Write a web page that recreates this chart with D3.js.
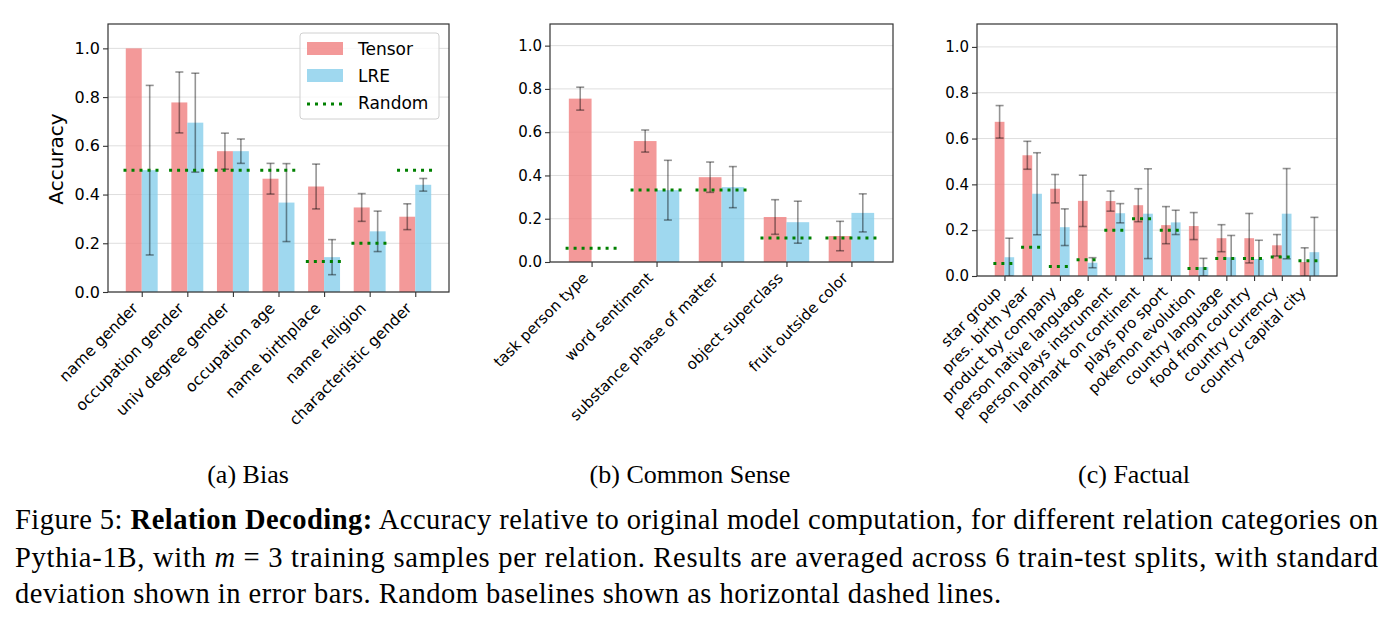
<!DOCTYPE html>
<html>
<head>
<meta charset="utf-8">
<script src="https://cdn.jsdelivr.net/npm/d3@7"></script>
<style>
  body { margin: 0; background: #fff; }
  svg { display: block; }
</style>
</head>
<body>
<svg id="fig" width="1392" height="632"></svg>
<script>
// values
var yTicks = [0, 0.2, 0.4, 0.6, 0.8, 1.0];

var biasCats = ["name gender", "occupation gender", "univ degree gender", "occupation age",
  "name birthplace", "name religion", "characteristic gender"];
var biasTensor = [1.0, 0.778, 0.578, 0.465, 0.433, 0.347, 0.309];
var biasTensorErr = [0, 0.125, 0.074, 0.063, 0.092, 0.057, 0.053];
var biasLRE = [0.50, 0.695, 0.578, 0.367, 0.143, 0.249, 0.440];
var biasLREErr = [0.348, 0.203, 0.050, 0.160, 0.072, 0.083, 0.026];
var biasRandom = [0.5, 0.5, 0.5, 0.5, 0.125, 0.2, 0.5];

var senseCats = ["task person type", "word sentiment", "substance phase of matter",
  "object superclass", "fruit outside color"];
var senseTensor = [0.755, 0.559, 0.392, 0.208, 0.120];
var senseTensorErr = [0.053, 0.051, 0.070, 0.080, 0.068];
var senseLRE = [null, 0.332, 0.346, 0.184, 0.227];
var senseLREErr = [null, 0.138, 0.095, 0.097, 0.088];
var senseRandom = [0.063, 0.333, 0.333, 0.111, 0.111];

var factCats = ["star group", "pres. birth year", "product by company", "person native language",
  "person plays instrument", "landmark on continent", "plays pro sport", "pokemon evolution",
  "country language", "food from country", "country currency", "country capital city"];
var factTensor = [0.673, 0.527, 0.381, 0.328, 0.327, 0.309, 0.222, 0.218, 0.165, 0.165, 0.134, 0.061];
var factTensorErr = [0.071, 0.061, 0.062, 0.112, 0.044, 0.072, 0.081, 0.059, 0.059, 0.108, 0.047, 0.062];
var factLRE = [0.082, 0.359, 0.213, 0.058, 0.274, 0.272, 0.234, 0.039, 0.082, 0.074, 0.272, 0.104];
var factLREErr = [0.083, 0.179, 0.080, 0.022, 0.042, 0.196, 0.053, 0.038, 0.095, 0.082, 0.197, 0.152];
var factRandom = [0.055, 0.125, 0.042, 0.071, 0.2, 0.25, 0.2, 0.033, 0.076, 0.076, 0.083, 0.067];

var tensorColor = "#f08080", lreColor = "#87ceeb", randomColor = "#008000";
var svg = d3.select("#fig");

function panel(o) {
  var n = o.cats.length;
  var m = 0.05 * (n - 0.2);
  var x = d3.scaleLinear().domain([-0.4 - m, n - 0.6 + m]).range([o.left, o.right]);
  var y = d3.scaleLinear().domain([0, 1.1]).range([o.bottom, o.top]);
  var g = svg.append("g");

  svg.append("clipPath").attr("id", "clip" + o.id)
    .append("rect")
    .attr("x", o.left).attr("y", o.top)
    .attr("width", o.right - o.left).attr("height", o.bottom - o.top);

  // grid
  g.append("g").selectAll("line").data(yTicks).join("line")
    .attr("x1", o.left).attr("x2", o.right)
    .attr("y1", function(d) { return y(d); }).attr("y2", function(d) { return y(d); })
    .attr("stroke", "#dedede").attr("stroke-width", 1);

  var plot = g.append("g").attr("clip-path", "url(#clip" + o.id + ")");
  var bw = x(0.35) - x(0);

  function bars(vals, off, color) {
    plot.append("g").selectAll("rect")
      .data(vals.map(function(v, i) { return { v: v, i: i }; }).filter(function(d) { return d.v != null; }))
      .join("rect")
      .attr("x", function(d) { return x(d.i + off); })
      .attr("width", bw)
      .attr("y", function(d) { return y(d.v); })
      .attr("height", function(d) { return y(0) - y(d.v); })
      .attr("fill", color).attr("fill-opacity", 0.8);
  }
  bars(o.tensor, -0.35, tensorColor);
  bars(o.lre, 0, lreColor);

  function errs(vals, errv, off) {
    var d = vals.map(function(v, i) { return { v: v, e: errv[i], i: i }; })
      .filter(function(d) { return d.v != null && d.e; });
    var eg = plot.append("g").attr("stroke", "#000").attr("stroke-opacity", 0.42).attr("stroke-width", 1.6);
    eg.selectAll("line.v").data(d).join("line")
      .attr("x1", function(d) { return x(d.i + off); }).attr("x2", function(d) { return x(d.i + off); })
      .attr("y1", function(d) { return y(d.v - d.e); }).attr("y2", function(d) { return y(d.v + d.e); });
    [-1, 1].forEach(function(s) {
      eg.append("g").selectAll("line").data(d).join("line")
        .attr("x1", function(d) { return x(d.i + off) - 4; }).attr("x2", function(d) { return x(d.i + off) + 4; })
        .attr("y1", function(d) { return y(d.v + s * d.e); }).attr("y2", function(d) { return y(d.v + s * d.e); });
    });
  }
  errs(o.tensor, o.tensorErr, -0.175);
  errs(o.lre, o.lreErr, 0.175);

  plot.append("g").selectAll("line").data(o.random).join("line")
    .attr("x1", function(d, i) { return x(i - 0.4); }).attr("x2", function(d, i) { return x(i + 0.4); })
    .attr("y1", function(d) { return y(d); }).attr("y2", function(d) { return y(d); })
    .attr("stroke", randomColor).attr("stroke-width", 3).attr("stroke-dasharray", "3,5");

  // axes
  var ya = g.append("g").attr("transform", "translate(" + o.left + ",0)")
    .call(d3.axisLeft(y).tickValues(yTicks).tickFormat(d3.format(".1f")).tickSize(5).tickPadding(3));
  ya.select(".domain").remove();
  ya.selectAll("text").attr("font-family", "DejaVu Sans").attr("font-size", o.fs).attr("fill", "#000");
  ya.selectAll("line").attr("stroke", "#333").attr("stroke-width", 1.1);

  var xa = g.append("g").attr("transform", "translate(0," + o.bottom + ")")
    .call(d3.axisBottom(x).tickValues(d3.range(n)).tickFormat("").tickSize(5));
  xa.select(".domain").remove();
  xa.selectAll("line").attr("stroke", "#333").attr("stroke-width", 1.1);

  var lf = o.lfs;
  g.append("g").selectAll("text").data(o.cats).join("text")
    .attr("transform", function(d, i) {
      return "translate(" + (x(i) - 0.17 * lf) + "," + (o.bottom + 9 + 0.53 * lf) + ") rotate(-45)";
    })
    .attr("text-anchor", "end")
    .attr("font-family", "DejaVu Sans").attr("font-size", lf)
    .text(function(d) { return d; });

  g.append("rect")
    .attr("x", o.left).attr("y", o.top)
    .attr("width", o.right - o.left).attr("height", o.bottom - o.top)
    .attr("fill", "none").attr("stroke", "#333").attr("stroke-width", 1.2);

  svg.append("text")
    .attr("x", o.capX).attr("y", 483)
    .attr("text-anchor", "middle")
    .attr("font-family", "Liberation Serif").attr("font-size", 26)
    .text(o.caption);
  return { x: x, y: y };
}

panel({ id: "a", cats: biasCats, tensor: biasTensor, tensorErr: biasTensorErr,
  lre: biasLRE, lreErr: biasLREErr, random: biasRandom,
  left: 108, right: 449, top: 24, bottom: 292, fs: 16, lfs: 15.5, capX: 248, caption: "(a) Bias" });
panel({ id: "b", cats: senseCats, tensor: senseTensor, tensorErr: senseTensorErr,
  lre: senseLRE, lreErr: senseLREErr, random: senseRandom,
  left: 550, right: 893, top: 24, bottom: 262, fs: 15, lfs: 15, capX: 690, caption: "(b) Common Sense" });
panel({ id: "c", cats: factCats, tensor: factTensor, tensorErr: factTensorErr,
  lre: factLRE, lreErr: factLREErr, random: factRandom,
  left: 977, right: 1337, top: 24, bottom: 276, fs: 15, lfs: 15, capX: 1134, caption: "(c) Factual" });

// y label of first panel
svg.append("text")
  .attr("transform", "translate(63,159) rotate(-90)")
  .attr("text-anchor", "middle")
  .attr("font-family", "DejaVu Sans").attr("font-size", 20)
  .text("Accuracy");

// legend
var leg = svg.append("g");
leg.append("rect").attr("x", 300).attr("y", 33).attr("width", 139).attr("height", 86)
  .attr("rx", 3).attr("fill", "#fff").attr("fill-opacity", 0.8)
  .attr("stroke", "#d0d0d0").attr("stroke-width", 1);
var legItems = [
  { label: "Tensor", kind: "bar", color: tensorColor },
  { label: "LRE", kind: "bar", color: lreColor },
  { label: "Random", kind: "line", color: randomColor }
];
legItems.forEach(function(d, i) {
  var cy = 48.5 + i * 27;
  if (d.kind === "bar") {
    leg.append("rect").attr("x", 307).attr("y", cy - 6.5).attr("width", 36).attr("height", 13)
      .attr("fill", d.color).attr("fill-opacity", 0.8);
  } else {
    leg.append("line").attr("x1", 307).attr("x2", 343).attr("y1", cy + 1.5).attr("y2", cy + 1.5)
      .attr("stroke", d.color).attr("stroke-width", 3).attr("stroke-dasharray", "3,5");
  }
  leg.append("text").attr("x", 358).attr("y", cy + 6.5)
    .attr("font-family", "DejaVu Sans").attr("font-size", 17)
    .text(d.label);
});

// figure caption
var cap = svg.append("g").attr("font-family", "Liberation Serif").attr("font-size", 28.5).attr("fill", "#000");
var l1 = cap.append("text").attr("x", 15).attr("y", 529).attr("textLength", 1363).attr("lengthAdjust", "spacing");
l1.append("tspan").text("Figure 5: ");
l1.append("tspan").attr("font-weight", "bold").text("Relation Decoding:");
l1.append("tspan").text(" Accuracy relative to original model computation, for different relation categories on");
var l2 = cap.append("text").attr("x", 15).attr("y", 566.5).attr("textLength", 1363).attr("lengthAdjust", "spacing");
l2.append("tspan").text("Pythia-1B, with ");
l2.append("tspan").attr("font-style", "italic").text("m");
l2.append("tspan").text(" = 3 training samples per relation. Results are averaged across 6 train-test splits, with standard");
cap.append("text").attr("x", 15).attr("y", 603).attr("textLength", 986).attr("lengthAdjust", "spacing")
  .text("deviation shown in error bars. Random baselines shown as horizontal dashed lines.");
</script>
</body>
</html>
